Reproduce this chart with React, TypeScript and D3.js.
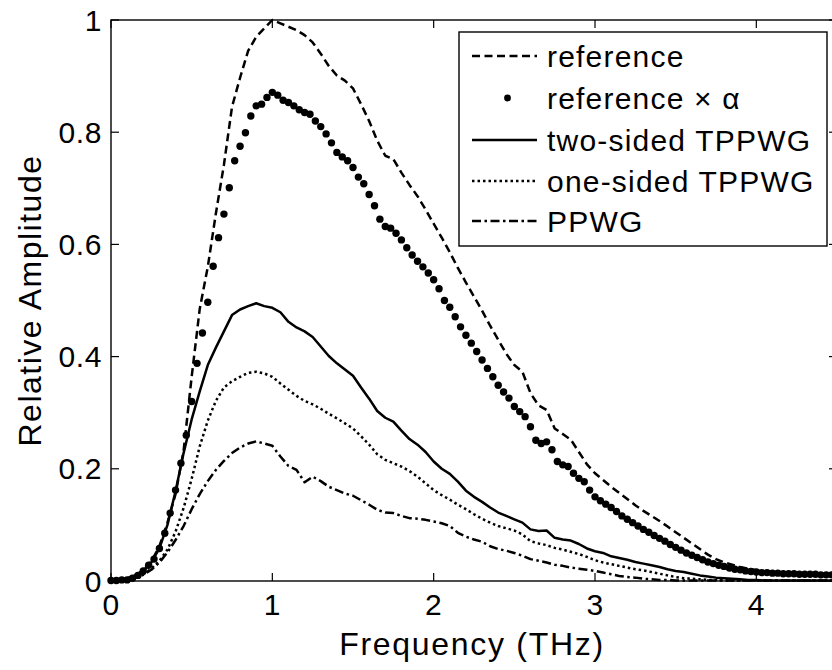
import React from "react";
import * as d3 from "d3";

// Frequency sampling
const LINE_STEP = 0.05; // THz, sampling of the four line series
const DOT_STEP = 1 / 30; // THz, sampling of the marker series

const referenceVals = [
  0, 0.002, 0.005, 0.010, 0.019, 0.035, 0.062, 0.104, 0.155, 0.232,
  0.364, 0.485, 0.560, 0.655, 0.742, 0.845, 0.897, 0.945, 0.970, 0.985,
  1.000, 0.994, 0.988, 0.982, 0.973, 0.960, 0.940, 0.918, 0.901, 0.892,
  0.878, 0.850, 0.820, 0.785, 0.758, 0.752, 0.728, 0.706, 0.686, 0.662,
  0.637, 0.612, 0.586, 0.558, 0.532, 0.507, 0.482, 0.455, 0.430, 0.405,
  0.385, 0.373, 0.335, 0.313, 0.305, 0.272, 0.262, 0.252, 0.230, 0.208,
  0.192, 0.180, 0.168, 0.157, 0.146, 0.135, 0.125, 0.116, 0.107, 0.097,
  0.087, 0.077, 0.067, 0.057, 0.047, 0.039, 0.033, 0.029, 0.025, 0.022,
  0.019, 0.017, 0.015, 0.014, 0.013, 0.013, 0.012, 0.012, 0.011, 0.011,
  0.011,
];

const twoSidedVals = [
  0, 0.002, 0.004, 0.010, 0.018, 0.033, 0.058, 0.100, 0.160, 0.228,
  0.288, 0.338, 0.385, 0.416, 0.445, 0.474, 0.484, 0.490, 0.495, 0.490,
  0.487, 0.479, 0.462, 0.452, 0.445, 0.435, 0.418, 0.401, 0.388, 0.377,
  0.366, 0.345, 0.325, 0.303, 0.291, 0.284, 0.268, 0.253, 0.243, 0.230,
  0.213, 0.200, 0.191, 0.177, 0.161, 0.150, 0.141, 0.131, 0.122, 0.116,
  0.110, 0.104, 0.092, 0.089, 0.090, 0.077, 0.074, 0.072, 0.066, 0.058,
  0.053, 0.050, 0.044, 0.041, 0.038, 0.034, 0.031, 0.028, 0.025, 0.021,
  0.018, 0.016, 0.013, 0.010, 0.008, 0.006, 0.005, 0.004, 0.003, 0.002,
  0.002, 0.001, 0.001, 0.001, 0.001, 0.001, 0.001, 0.001, 0.001, 0.001,
  0.001,
];

const oneSidedVals = [
  0, 0.001, 0.003, 0.007, 0.012, 0.022, 0.036, 0.056, 0.088, 0.130,
  0.182, 0.240, 0.286, 0.321, 0.345, 0.356, 0.364, 0.371, 0.373, 0.370,
  0.364, 0.352, 0.341, 0.330, 0.321, 0.315, 0.307, 0.298, 0.290, 0.281,
  0.272, 0.258, 0.243, 0.226, 0.216, 0.210, 0.204, 0.196, 0.186, 0.174,
  0.162, 0.153, 0.145, 0.136, 0.128, 0.119, 0.111, 0.104, 0.098, 0.094,
  0.090, 0.083, 0.071, 0.067, 0.064, 0.059, 0.056, 0.052, 0.048, 0.043,
  0.037, 0.033, 0.030, 0.027, 0.024, 0.021, 0.019, 0.016, 0.013, 0.010,
  0.007, 0.005, 0.004, 0.003, 0.002, 0.002, 0.001, 0.001, 0.001, 0.001,
  0.001, 0.001, 0.001, 0.001, 0.001, 0.001, 0.001, 0.001, 0.001, 0.001,
  0.001,
];

const ppwgVals = [
  0, 0.001, 0.003, 0.006, 0.011, 0.020, 0.033, 0.051, 0.073, 0.098,
  0.128, 0.155, 0.178, 0.198, 0.214, 0.228, 0.238, 0.245, 0.249, 0.245,
  0.241, 0.222, 0.205, 0.198, 0.176, 0.186, 0.178, 0.168, 0.162, 0.156,
  0.152, 0.144, 0.136, 0.127, 0.122, 0.121, 0.116, 0.112, 0.111, 0.109,
  0.106, 0.103, 0.098, 0.086, 0.079, 0.074, 0.070, 0.062, 0.057, 0.054,
  0.050, 0.045, 0.039, 0.036, 0.033, 0.029, 0.027, 0.024, 0.022, 0.020,
  0.018, 0.015, 0.012, 0.009, 0.007, 0.006, 0.004, 0.003, 0.002, 0.002,
  0.001, 0.001, 0.001, 0.001, 0.001, 0.001, 0.001, 0.001, 0.001, 0.001,
  0.001, 0.001, 0.001, 0.001, 0.001, 0.001, 0.001, 0.001, 0.001, 0.001,
  0.001,
];

const refAlphaVals = [
  0.001, 0.001, 0.002, 0.002, 0.005, 0.010, 0.018, 0.028, 0.039, 0.058,
  0.085, 0.121, 0.162, 0.210, 0.260, 0.320, 0.388, 0.442, 0.497, 0.561,
  0.612, 0.654, 0.701, 0.749, 0.775, 0.799, 0.829, 0.847, 0.850, 0.862,
  0.871, 0.866, 0.857, 0.853, 0.847, 0.840, 0.835, 0.832, 0.820, 0.810,
  0.797, 0.781, 0.764, 0.756, 0.749, 0.737, 0.720, 0.708, 0.689, 0.669,
  0.645, 0.632, 0.629, 0.620, 0.608, 0.594, 0.581, 0.570, 0.560, 0.549,
  0.537, 0.521, 0.500, 0.488, 0.471, 0.453, 0.438, 0.424, 0.409, 0.394,
  0.379, 0.364, 0.349, 0.337, 0.326, 0.311, 0.302, 0.293, 0.275, 0.251,
  0.245, 0.248, 0.234, 0.213, 0.207, 0.204, 0.192, 0.183, 0.177, 0.162,
  0.150, 0.143, 0.137, 0.131, 0.124, 0.116, 0.110, 0.104, 0.098, 0.092,
  0.087, 0.081, 0.076, 0.071, 0.065, 0.060, 0.055, 0.050, 0.046, 0.042,
  0.038, 0.034, 0.031, 0.028, 0.026, 0.023, 0.021, 0.020, 0.018, 0.017,
  0.016, 0.015, 0.015, 0.014, 0.014, 0.013, 0.013, 0.013, 0.012, 0.012,
  0.012, 0.012, 0.011, 0.011, 0.011, 0.011,
];

const xTicks = [0, 1, 2, 3, 4];
const yTicks = [0, 0.2, 0.4, 0.6, 0.8, 1];
const yTickLabels = ["0", "0.2", "0.4", "0.6", "0.8", "1"];
const legendLabels = [
  "reference",
  "reference \u00d7 \u03b1",
  "two-sided TPPWG",
  "one-sided TPPWG",
  "PPWG",
];

const W = 832;
const H = 670;
const L = 111;
const R = 837;
const T = 20;
const B = 581;
const FONT = "'Liberation Sans', Arial, Helvetica, sans-serif";

const x = d3.scaleLinear().domain([0, 4.5]).range([L, R]);
const y = d3.scaleLinear().domain([0, 1]).range([B, T]);

const lineFreq = referenceVals.map((_, i) => i * LINE_STEP);
const dotFreq = refAlphaVals.map((_, i) => i * DOT_STEP);

const lineGen = d3
  .line<number>()
  .x((_, i) => x(lineFreq[i]))
  .y((d) => y(d));

const styles = {
  dashed: "8,4.5",
  dotted: "2.5,3",
  dashdot: "9,3.5,2.5,3.5",
};

export default function App() {
  const tickLen = 8;
  const legX0 = 472;
  const legX1 = 537;
  const legRows = [56, 98, 140, 181, 221];
  const lw = 2.5;
  return (
    <svg
      width={W}
      height={H}
      style={{ position: "absolute", left: 0, top: 0, background: "#fff" }}
      fontFamily={FONT}
    >
      <rect x={0} y={0} width={W} height={H} fill="#fff" />
      {/* data */}
      <g fill="none" stroke="#000" strokeWidth={lw} strokeLinejoin="round">
        <path d={lineGen(referenceVals) || ""} strokeDasharray={styles.dashed} />
        <path d={lineGen(twoSidedVals) || ""} />
        <path d={lineGen(oneSidedVals) || ""} strokeDasharray={styles.dotted} />
        <path d={lineGen(ppwgVals) || ""} strokeDasharray={styles.dashdot} />
      </g>
      <g fill="#000">
        {refAlphaVals.map((v, i) => (
          <circle key={i} cx={x(dotFreq[i])} cy={y(v)} r={3.7} />
        ))}
      </g>
      {/* frame */}
      <rect x={L} y={T} width={R - L} height={B - T} fill="none" stroke="#000" strokeWidth={1.4} />
      {xTicks.map((t) => (
        <g key={"xt" + t} stroke="#000" strokeWidth={1.2}>
          <line x1={x(t)} x2={x(t)} y1={B} y2={B - tickLen} />
          <line x1={x(t)} x2={x(t)} y1={T} y2={T + tickLen} />
        </g>
      ))}
      {yTicks.map((t) => (
        <g key={"yt" + t} stroke="#000" strokeWidth={1.2}>
          <line x1={L} x2={L + tickLen} y1={y(t)} y2={y(t)} />
          <line x1={R} x2={R - tickLen} y1={y(t)} y2={y(t)} />
        </g>
      ))}
      {xTicks.map((t) => (
        <text key={"xl" + t} x={x(t)} y={615} fontSize={30} textAnchor="middle" letterSpacing={0.5}>
          {String(t)}
        </text>
      ))}
      {yTicks.map((t, i) => (
        <text key={"yl" + t} x={102} y={y(t) + 10.5} fontSize={30} textAnchor="end" letterSpacing={0.6}>
          {yTickLabels[i]}
        </text>
      ))}
      <text x={(L + R) / 2 - 2} y={655} fontSize={32} textAnchor="middle" letterSpacing={1.7}>
        Frequency (THz)
      </text>
      <text
        transform={`translate(41, ${(T + B) / 2}) rotate(-90)`}
        fontSize={32}
        textAnchor="middle"
        letterSpacing={1.5}
      >
        Relative Amplitude
      </text>
      {/* legend */}
      <rect x={459} y={32} width={368} height={214} fill="#fff" stroke="#000" strokeWidth={1.4} />
      <g stroke="#000" strokeWidth={lw} fill="none">
        <line x1={legX0} x2={legX1} y1={legRows[0]} y2={legRows[0]} strokeDasharray={styles.dashed} />
        <line x1={legX0} x2={legX1} y1={legRows[2]} y2={legRows[2]} />
        <line x1={legX0} x2={legX1} y1={legRows[3]} y2={legRows[3]} strokeDasharray={styles.dotted} />
        <line x1={legX0} x2={legX1} y1={legRows[4]} y2={legRows[4]} strokeDasharray={styles.dashdot} />
      </g>
      <circle cx={(legX0 + legX1) / 2 + 3} cy={legRows[1]} r={3.4} fill="#000" />
      {legendLabels.map((s, i) => (
        <text key={s} x={547} y={legRows[i] + 10.5} fontSize={30} letterSpacing={1.2}>
          {s}
        </text>
      ))}
    </svg>
  );
}
